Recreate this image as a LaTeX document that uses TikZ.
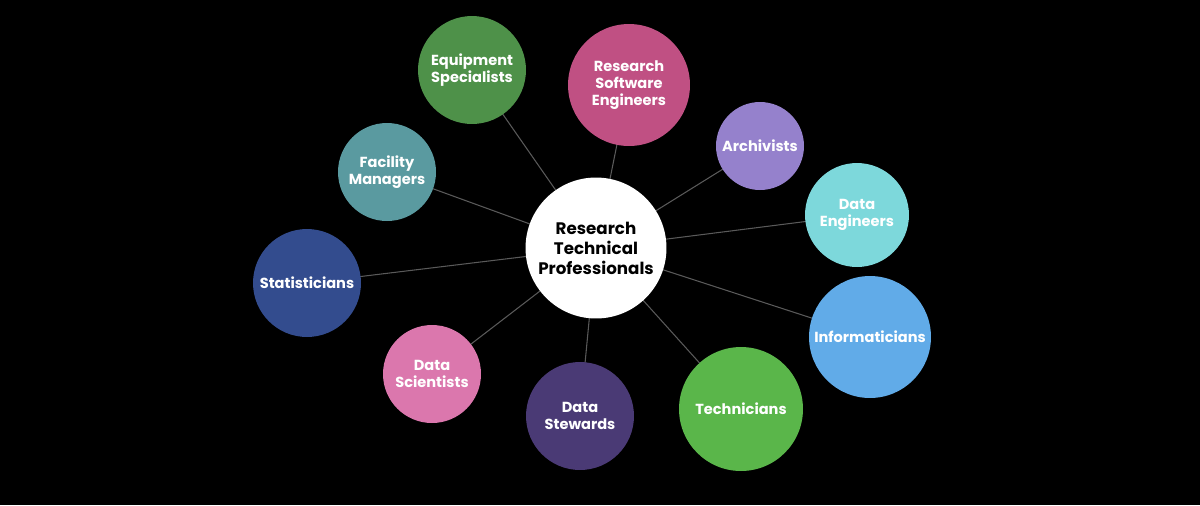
\documentclass[tikz,border=0pt]{standalone}
\usepackage{fontspec}
\setmainfont{Poppins}
\usepackage{tikz}
\usetikzlibrary{backgrounds}
\definecolor{equipGreen}{HTML}{4E9149}
\definecolor{rseMagenta}{HTML}{C05083}
\definecolor{archPurple}{HTML}{9581CC}
\definecolor{engCyan}{HTML}{7DD8DB}
\definecolor{infoBlue}{HTML}{61ABE8}
\definecolor{techGreen}{HTML}{5AB64A}
\definecolor{stewPurple}{HTML}{4A3A75}
\definecolor{sciPink}{HTML}{DB77AD}
\definecolor{statBlue}{HTML}{334C8E}
\definecolor{facTeal}{HTML}{5A9AA0}
\definecolor{spokeGray}{HTML}{5A5A5A}
\tikzset{
	hub/.style={circle, fill=white, text=black, inner sep=0pt, minimum size=2.82cm, align=center, font=\bfseries\fontsize{9.5}{11.4}\selectfont},
	role/.style={circle, fill=#1, text=white, inner sep=0pt, align=center, font=\bfseries\fontsize{8.3}{9.8}\selectfont},
	spoke/.style={draw=spokeGray, line width=0.6pt}
}

\begin{document}
\begin{tikzpicture}[x=0.02cm, y=-0.02cm]
	\useasboundingbox (0,0) rectangle (1200,505);
	% \draw[gray] (0,0) grid[step=100] (1200,505);
	\node[hub] (rtp) at (596,248) {Research\\Technical\\Professionals};

	\node[role=equipGreen, minimum size=2.16cm] (equip) at (472,70) {Equipment\\Specialists};
	\node[role=rseMagenta, minimum size=2.44cm] (rse) at (629,85) {Research\\Software\\Engineers};
	\node[role=archPurple, minimum size=1.76cm] (arch) at (760,146) {Archivists};
	\node[role=engCyan, minimum size=2.08cm] (deng) at (857,215) {Data\\Engineers};
	\node[role=infoBlue, minimum size=2.44cm] (info) at (870,337) {Informaticians};
	\node[role=techGreen, minimum size=2.48cm] (tech) at (741,409) {Technicians};
	\node[role=stewPurple, minimum size=2.16cm] (stew) at (580,416) {Data\\Stewards};
	\node[role=sciPink, minimum size=1.96cm] (dsci) at (432,374) {Data\\Scientists};
	\node[role=statBlue, minimum size=2.16cm] (stat) at (307,283) {Statisticians};
	\node[role=facTeal, minimum size=1.96cm] (fac) at (387,172) {Facility\\Managers};

	\begin{scope}[on background layer]
		\fill[black] (0,0) rectangle (1200,505);
		\foreach \n in {equip, rse, arch, deng, info, tech, stew, dsci, stat, fac}
			\draw[spoke] (rtp.center) -- (\n.center);
	\end{scope}
\end{tikzpicture}
\end{document}
